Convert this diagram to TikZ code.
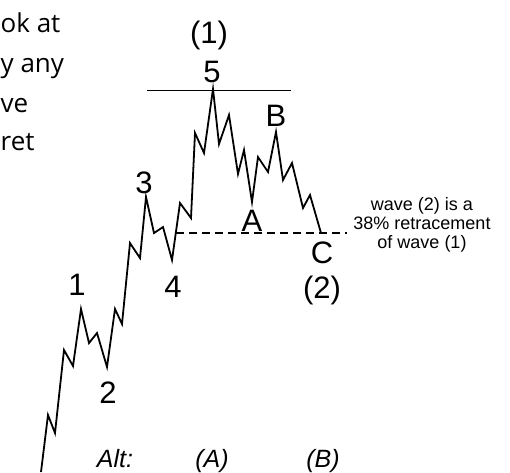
\documentclass[tikz,border=0pt]{standalone}
\usepackage{fontspec}
\setmainfont{Liberation Sans}
\newfontfamily\parafont{Open Sans}

\tikzset{
  wave/.style={line width=1.8pt, line join=miter},
  lbl/.style={inner sep=0pt, anchor=base, font=\fontsize{31}{33}\selectfont},
  alt/.style={inner sep=0pt, anchor=base, font=\fontsize{25}{27}\selectfont\itshape},
  note/.style={inner sep=0pt, align=center, font=\fontsize{18}{19}\selectfont},
  para/.style={inner sep=0pt, anchor=base west, font=\parafont\fontsize{26}{28}\selectfont},
}

\begin{document}
\begin{tikzpicture}[x=1pt,y=-1pt]

\useasboundingbox (0,0) rectangle (510,472);

% text of the page beside the chart
\node[para] (p1) at (0.5,32) {ok at};
\node[para] (p2) at (0.5,72) {y any};
\node[para] (p3) at (0.5,112) {ve};
\node[para] (p4) at (0.5,150) {ret};

% wave points
\coordinate (w1) at (81,309);
\coordinate (w2) at (107,367);
\coordinate (w3) at (146,197);
\coordinate (w4) at (172,260);
\coordinate (w5) at (213,89);
\coordinate (wA) at (252,202);
\coordinate (wB) at (276,132);
\coordinate (wC) at (321,233);

\draw[wave] (41,472) -- (48,415) -- (55,433) -- (64,350) -- (73,366) -- (w1)
  -- (89,343) -- (97,333) -- (w2)
  -- (115,309) -- (122,324) -- (130,243) -- (140,258) -- (w3)
  -- (154,233) -- (163,227) -- (w4)
  -- (180,203) -- (191,218) -- (195,133) -- (204,153) -- (w5)
  -- (219,144) -- (229,115) -- (238,174) -- (244,150) -- (wA)
  -- (258,157) -- (268,172) -- (wB)
  -- (283,180) -- (292,163) -- (303,208) -- (310,195) -- (wC);

% top of wave (1)
\coordinate (topL) at (147,90);
\coordinate (topR) at (291,90);
\draw[line width=1pt] (topL) -- (topR);

% 38% level
\coordinate (retL) at (176,233);
\coordinate (retR) at (347,233);
\draw[line width=1.2pt, dash pattern=on 8pt off 5pt] (retL) -- (retR);

\node[lbl] (n1) at (77,295) {1};
\node[lbl] (n2) at (108,403) {2};
\node[lbl] (n3) at (144,193) {3};
\node[lbl] (n4) at (173,297) {4};
\node[lbl] (n5) at (212,82) {5};
\node[lbl] (top) at (209,43) {(1)};

\node[lbl] (nA) at (252,231) {A};
\node[lbl] (nB) at (276,126) {B};
\node[lbl] (nC) at (322,263) {C};
\node[lbl] (low) at (322,298) {(2)};

\node[note] (txt) at (422,225) {wave (2) is a\\38\% retracement\\of wave (1)};

\node[alt] (alt) at (115,467) {Alt:};
\node[alt] (altA) at (212,467) {(A)};
\node[alt] (altB) at (323,467) {(B)};

\end{tikzpicture}
\end{document}
